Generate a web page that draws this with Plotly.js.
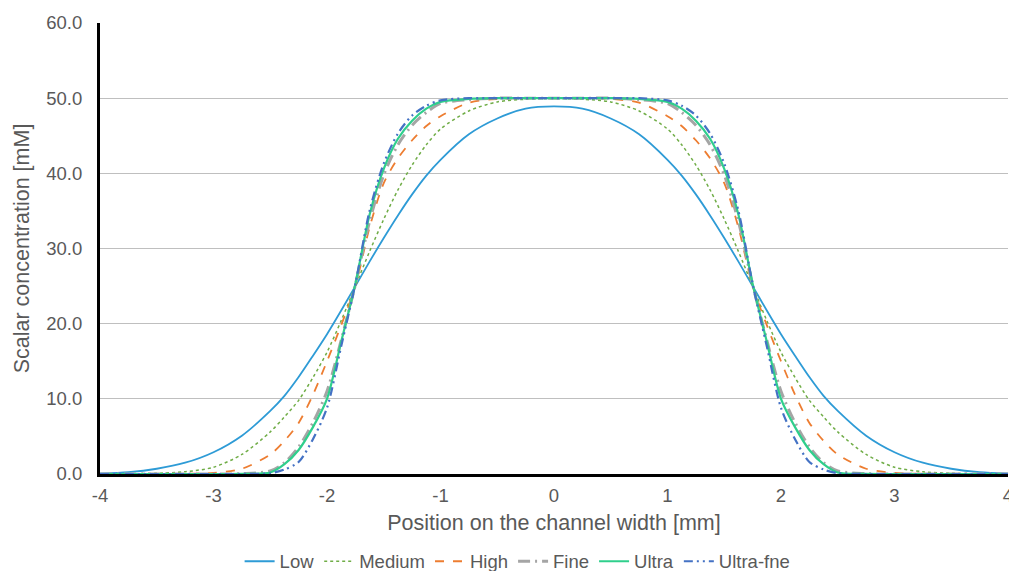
<!DOCTYPE html>
<html>
<head>
<meta charset="utf-8">
<script src="https://cdn.plot.ly/plotly-3.0.1.min.js"></script>
<style>html,body{margin:0;padding:0;background:#fff;}#chart{width:1009px;height:571px;}</style>
</head>
<body>
<div id="chart"></div>
<script>
// Position on channel width [mm]
var positions = [-4,-3.75,-3.5,-3.25,-3,-2.75,-2.5,-2.375,-2.25,-2.125,-2,-1.875,-1.75,-1.625,-1.5,-1.375,-1.25,-1.125,-1,-0.75,-0.5,-0.25,
  0,
  0.25,0.5,0.75,1,1.125,1.25,1.375,1.5,1.625,1.75,1.875,2,2.125,2.25,2.375,2.5,2.75,3,3.25,3.5,3.75,4];

// Scalar concentration [mM]
var lowValues = [0.08,0.25,0.7,1.5,2.9,5.1,8.4,10.4,12.9,15.7,18.6,21.75,25.0,28.25,31.4,34.4,37.2,39.7,41.8,45.2,47.3,48.6,
  48.9,
  48.6,47.3,45.2,41.8,39.7,37.2,34.4,31.4,28.25,25.0,21.75,18.6,15.7,12.9,10.4,8.4,5.1,2.9,1.5,0.7,0.25,0.08];
var mediumValues = [0,0.03,0.1,0.3,0.9,2.6,5.6,7.6,9.8,12.8,16.2,20.4,25.0,29.6,33.9,37.8,41.1,43.8,45.9,48.3,49.5,49.85,
  49.95,
  49.85,49.5,48.3,45.9,43.8,41.1,37.8,33.9,29.6,25.0,20.4,16.2,12.8,9.8,7.6,5.6,2.6,0.9,0.3,0.1,0.03,0];
var highValues = [0,0,0.01,0.03,0.15,0.7,2.6,4.4,6.8,10.5,15.0,19.8,25.0,32.8,38.7,42.0,44.4,46.3,47.6,49.4,49.9,50.0,
  50.0,
  50.0,49.9,49.4,47.6,46.3,44.4,42.0,38.7,32.8,25.0,19.8,15.0,10.5,6.8,4.4,2.6,0.7,0.15,0.03,0.01,0,0];
var fineValues = [0,0,0,0,0,0.05,0.4,1.5,3.6,6.8,11.0,17.8,25.2,33.6,39.8,43.8,46.4,48.1,49.3,49.8,50.0,50.0,
  50.0,
  50.0,50.0,49.8,49.3,48.1,46.4,43.8,39.8,33.6,25.2,17.8,11.0,6.8,3.6,1.5,0.4,0.05,0,0,0,0,0];
var ultraValues = [0,0,0,0,0,0.02,0.2,1.3,3.2,6.2,10.0,17.6,25.3,34.5,40.6,44.6,47.0,48.6,49.5,49.9,50.0,50.0,
  50.0,
  50.0,50.0,49.9,49.5,48.6,47.0,44.6,40.6,34.5,25.3,17.6,10.0,6.2,3.2,1.3,0.2,0.02,0,0,0,0,0];
var ultraFineValues = [0,0,0,0,0,0,0.1,0.6,1.6,4.6,8.8,17.0,25.3,35.0,41.3,45.3,47.7,49.0,49.7,50.0,50.0,50.0,
  50.0,
  50.0,50.0,50.0,49.7,49.0,47.7,45.3,41.3,35.0,25.3,17.0,8.8,4.6,1.6,0.6,0.1,0,0,0,0,0,0];

var seriesNames = ['Low','Medium','High','Fine','Ultra','Ultra-fne'];
var xTickVals = [-4,-3,-2,-1,0,1,2,3,4];
var xTickText = ['-4','-3','-2','-1','0','1','2','3','4'];
var yTickVals = [0,10,20,30,40,50,60];

var seriesData = [lowValues, mediumValues, highValues, fineValues, ultraValues, ultraFineValues];
var styles = [
  {color:'#2E9BD6', width:1.8, dash:'solid'},
  {color:'#70AD47', width:1.5, dash:'dot'},
  {color:'#ED7D31', width:1.8, dash:'dash'},
  {color:'#A5A5A5', width:3, dash:'12px,5px,2px,5px'},
  {color:'#2FCF8C', width:2.2, dash:'solid'},
  {color:'#4472C4', width:2.2, dash:'9px,4px,2px,4px,2px,4px'}
];

var traces = seriesData.map(function(vals, i){
  return {
    x: positions, y: vals, type:'scatter', mode:'lines', name: seriesNames[i],
    line: {color: styles[i].color, width: styles[i].width, dash: styles[i].dash, shape:'spline', smoothing:0.8}
  };
});

var fam = '"Liberation Sans", Arial, sans-serif';

var layout = {
  width:1009, height:571,
  margin:{l:100, r:1, t:23, b:97, pad:0, autoexpand:false},
  paper_bgcolor:'#ffffff', plot_bgcolor:'#ffffff',
  font: {family: fam, color:'#595959', size:18.5},
  showlegend:true,
  legend:{orientation:'h', xref:'container', x:0.513, xanchor:'center', yref:'container', y:0.0495, yanchor:'top',
    font:{size:18.5, color:'#595959'}, itemwidth:30, tracegroupgap:0},
  xaxis:{range:[-4,4], tickvals:xTickVals, ticktext:xTickText, showgrid:false, zeroline:false,
    showline:true, linecolor:'#000000', linewidth:3, ticks:'', ticklabeloverflow:'allow', ticklabelstandoff:3,
    tickfont:{size:18.5, color:'#595959'},
    title:{text:'Position on the channel width [mm]', font:{size:21.5, color:'#595959'}, standoff:10}},
  yaxis:{range:[0,60], tickvals:yTickVals, tickformat:'.1f', showgrid:true, gridcolor:'#BFBFBF', gridwidth:1,
    zeroline:false, showline:true, linecolor:'#000000', linewidth:3, ticks:'', ticklabelstandoff:11,
    tickfont:{size:18.5, color:'#595959'},
    title:{text:'Scalar concentration [mM]', font:{size:21.5, color:'#595959'}, standoff:11}}
};

Plotly.newPlot('chart', traces, layout, {displayModeBar:false, staticPlot:true});
</script>
</body>
</html>
